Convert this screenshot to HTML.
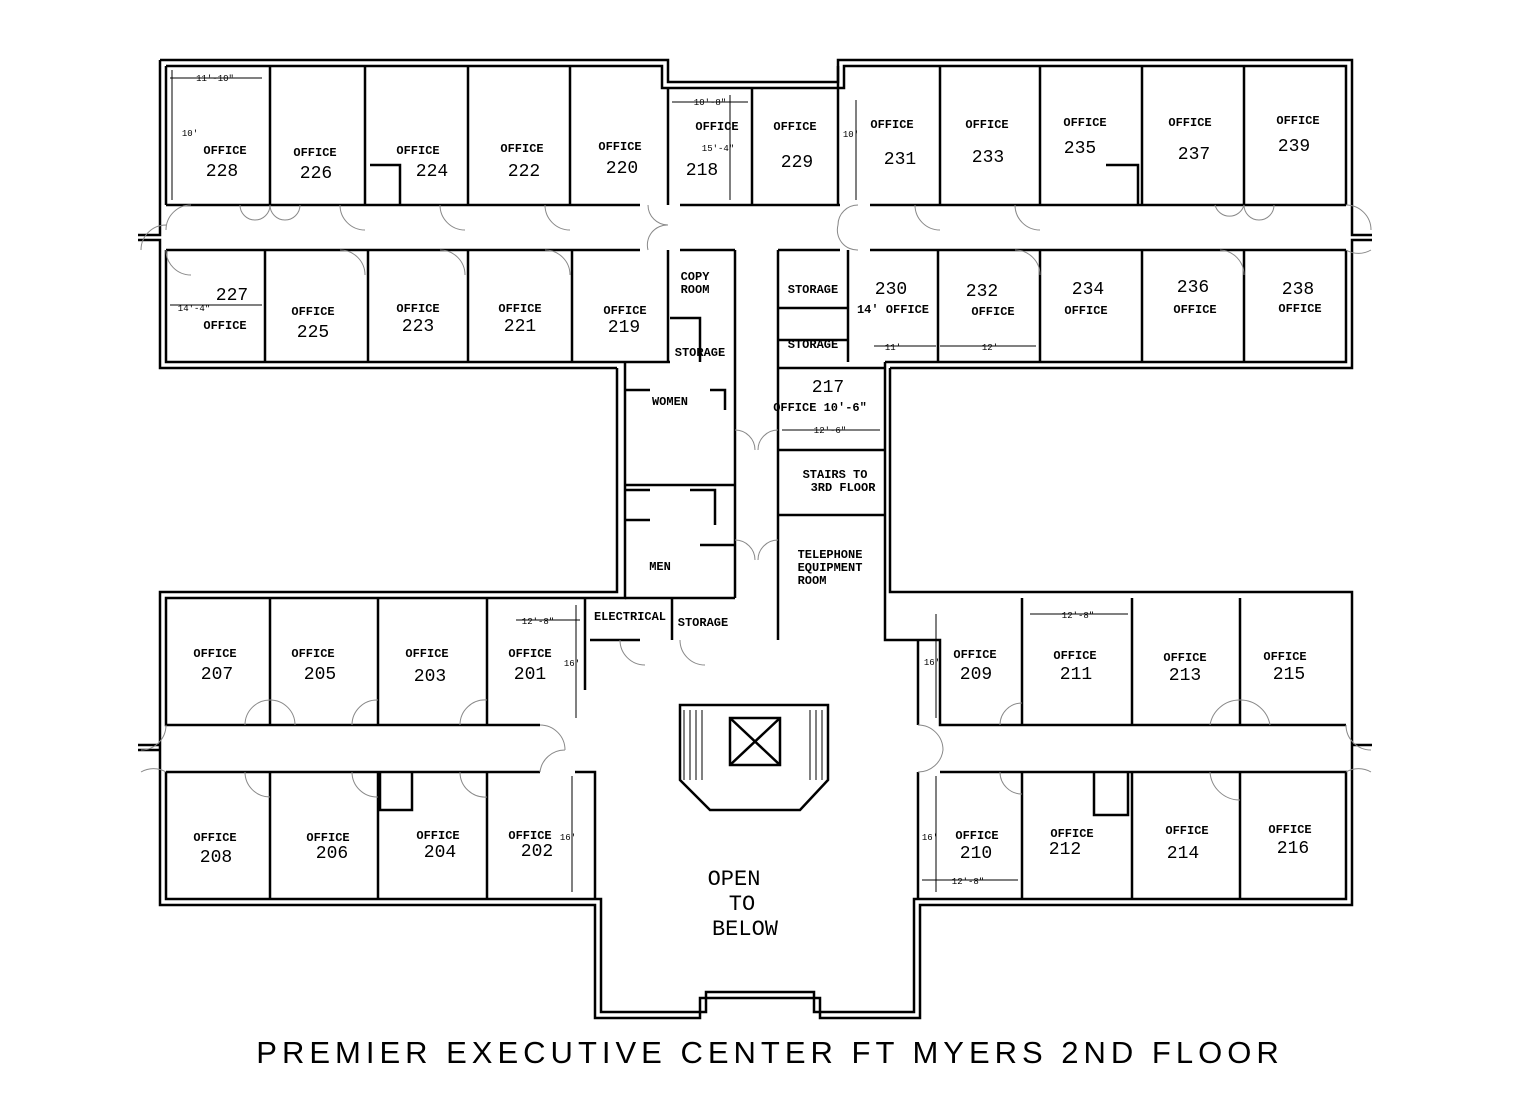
<!DOCTYPE html>
<html><head><meta charset="utf-8"><style>
html,body{margin:0;padding:0;background:#fff}
svg{display:block}
text{font-family:"Liberation Mono",monospace;fill:#000}
.s{font-size:12px;font-weight:bold}
.n{font-size:18px}
.d{font-size:9px}
</style></head><body>
<svg width="1526" height="1115" viewBox="0 0 1526 1115" xmlns="http://www.w3.org/2000/svg">
<g fill="none" stroke="#000" stroke-width="2.5">
<path d="M160 60 H668 V82 H838 V60 H1352 V235 H1372 M160 60 V235 H138"/>
<path d="M166 66 H662 V88 H844 V66 H1346 V205"/>
<path d="M166 66 V205"/>
<path d="M138 240 H160 V368 H617 M1372 240 H1352 V368 H890"/>
<path d="M166 250 V362 H670 M1346 250 V362 H885"/>
<path d="M166 205 H640 M680 205 H840 M870 205 H1346"/>
<path d="M166 250 H640 M680 250 H735 M778 250 H840 M870 250 H1346"/>
<path d="M270 66 V205 M365 66 V205 M468 66 V205 M570 66 V205 M668 88 V205 M752 88 V205 M838 66 V205 M940 66 V205 M1040 66 V205 M1142 66 V205 M1244 66 V205"/>
<path d="M265 250 V362 M368 250 V362 M468 250 V362 M572 250 V362 M668 250 V362 M735 250 V362 M778 250 V362 M848 250 V362 M938 250 V362 M1040 250 V362 M1142 250 V362 M1244 250 V362"/>
<path d="M370 165 H400 V205 M1106 165 H1138 V205 M670 318 H700 V362 M778 308 H848 M778 340 H848"/>
<path d="M617 368 V592 H160 V905 H595 V1018 H700 V998 H820 V1018 H920 V905 H1352 V592 H890 V368"/>
<path d="M625 362 V598 H166 V725 H540 M166 772 V899 H601 V1012 H706 V992 H814 V1012 H914 V899 H1346 V772 H940"/>
<path d="M1346 725 H940 V640 H885 V362"/>
<path d="M735 362 V598 M625 485 H735 M625 598 H735 M778 362 V640 M778 450 H885 M778 515 H885 M778 368 H885"/>
<path d="M138 745 H160 M138 750 H160 M1352 745 H1372"/>
<path d="M270 598 V725 M378 598 V725 M487 598 V725 M585 598 V690 M590 640 H640 M672 598 V640"/>
<path d="M166 772 H540 M575 772 H595 V899"/>
<path d="M270 772 V899 M378 772 V899 M487 772 V899 M380 772 V810 H412 V772"/>
<path d="M918 640 V725 M1022 598 V725 M1132 598 V725 M1240 598 V725"/>
<path d="M918 772 V899 M1022 772 V899 M1132 772 V899 M1240 772 V899 M1094 772 V815 H1128 V772"/>
<path d="M680 705 H828 V780 L800 810 H710 L680 780 Z M730 718 H780 V765 H730 Z M730 718 L780 765 M780 718 L730 765"/>
<path d="M625 390 H650 M710 390 H725 V410 M625 490 H650 M690 490 H715 V525 M700 545 H735 M625 520 H650"/>
</g>
<g stroke="#000" stroke-width="1">
<path d="M684 710 V780 M690 710 V780 M696 710 V780 M702 710 V780 M810 710 V780 M816 710 V780 M822 710 V780"/>
</g>
<!-- door arcs -->
<g fill="none" stroke="#888" stroke-width="1">
<path d="M166 230 A25 25 0 0 1 191 205 M166 225 A25 25 0 0 0 141 250"/>
<path d="M240 205 A15 15 0 0 0 270 205 M270 205 A15 15 0 0 0 300 205"/>
<path d="M340 205 A25 25 0 0 0 365 230 M440 205 A25 25 0 0 0 465 230 M545 205 A25 25 0 0 0 570 230"/>
<path d="M648 205 A20 20 0 0 0 668 225 M668 225 A20 20 0 0 0 648 250"/>
<path d="M838 225 A20 20 0 0 1 858 205 M838 225 A20 20 0 0 0 858 250"/>
<path d="M915 205 A25 25 0 0 0 940 230 M1015 205 A25 25 0 0 0 1040 230 M1215 205 A15 15 0 0 0 1244 205 M1244 205 A15 15 0 0 0 1274 205 M1346 205 A25 25 0 0 1 1371 230"/>
<path d="M166 250 A25 25 0 0 0 191 275 M340 250 A25 25 0 0 1 365 275 M440 250 A25 25 0 0 1 465 275 M545 250 A25 25 0 0 1 570 275"/>
<path d="M1015 250 A25 25 0 0 1 1040 275 M1220 250 A25 25 0 0 1 1244 275 M1346 250 A25 25 0 0 0 1371 250"/>
<path d="M735 430 A20 20 0 0 1 755 450 M778 430 A20 20 0 0 0 758 450 M735 540 A20 20 0 0 1 755 560 M778 540 A20 20 0 0 0 758 560"/>
<path d="M620 640 A25 25 0 0 0 645 665 M680 640 A25 25 0 0 0 705 665"/>
<path d="M166 725 A25 25 0 0 1 141 750 M166 772 A25 25 0 0 0 141 772 M245 725 A25 25 0 0 1 270 700 M270 700 A25 25 0 0 1 295 725"/>
<path d="M352 725 A25 25 0 0 1 378 700 M460 725 A25 25 0 0 1 487 700 M540 725 A25 25 0 0 1 565 750 M540 772 A25 25 0 0 1 565 750"/>
<path d="M245 772 A25 25 0 0 0 270 797 M352 772 A25 25 0 0 0 378 797 M460 772 A25 25 0 0 0 487 797"/>
<path d="M918 725 A25 25 0 0 1 943 750 M918 772 A25 25 0 0 0 943 750 M1000 725 A22 22 0 0 1 1022 703 M1210 725 A30 30 0 0 1 1240 700 M1240 700 A30 30 0 0 1 1270 725 M1346 725 A25 25 0 0 0 1371 750"/>
<path d="M1000 772 A22 22 0 0 0 1022 794 M1210 772 A30 30 0 0 0 1240 800 M1346 772 A25 25 0 0 1 1371 772"/>
</g>
<!-- dimension lines -->
<g stroke="#000" stroke-width="1">
<path d="M170 78 H262 M172 70 V200 M672 102 H748 M730 95 V200 M856 100 V200 M170 305 H262 M874 346 H936 M940 346 H1036 M782 430 H880 M516 620 H580 M576 605 V718 M1030 614 H1128 M936 614 V718 M936 776 V892 M922 880 H1018 M572 776 V892"/>
</g>
<g class="d" text-anchor="middle">
<text x="215" y="81">11'-10"</text><text x="190" y="136">10'</text><text x="710" y="105">10'-8"</text><text x="718" y="151">15'-4"</text><text x="851" y="137">10'</text><text x="194" y="311">14'-4"</text><text x="893" y="350">11'</text><text x="990" y="350">12'</text><text x="830" y="433">12'-6"</text><text x="538" y="624">12'-8"</text><text x="572" y="666">16'</text><text x="1078" y="618">12'-8"</text><text x="932" y="665">16'</text><text x="930" y="840">16'</text><text x="968" y="884">12'-8"</text><text x="568" y="840">16'</text>
</g>
<g class="s" text-anchor="middle">
<text x="225" y="154">OFFICE</text><text x="315" y="156">OFFICE</text><text x="418" y="154">OFFICE</text><text x="522" y="152">OFFICE</text><text x="620" y="150">OFFICE</text><text x="717" y="130">OFFICE</text><text x="795" y="130">OFFICE</text><text x="892" y="128">OFFICE</text><text x="987" y="128">OFFICE</text><text x="1085" y="126">OFFICE</text><text x="1190" y="126">OFFICE</text><text x="1298" y="124">OFFICE</text>
<text x="225" y="329">OFFICE</text><text x="313" y="315">OFFICE</text><text x="418" y="312">OFFICE</text><text x="520" y="312">OFFICE</text><text x="625" y="314">OFFICE</text><text x="695" y="280">COPY</text><text x="695" y="293">ROOM</text><text x="700" y="356">STORAGE</text><text x="813" y="293">STORAGE</text><text x="813" y="348">STORAGE</text><text x="893" y="313">14' OFFICE</text><text x="993" y="315">OFFICE</text><text x="1086" y="314">OFFICE</text><text x="1195" y="313">OFFICE</text><text x="1300" y="312">OFFICE</text>
<text x="670" y="405">WOMEN</text><text x="660" y="570">MEN</text><text x="820" y="411">OFFICE 10'-6"</text><text x="835" y="478">STAIRS TO</text><text x="843" y="491">3RD FLOOR</text><text x="830" y="558">TELEPHONE</text><text x="830" y="571">EQUIPMENT</text><text x="812" y="584">ROOM</text><text x="630" y="620">ELECTRICAL</text><text x="703" y="626">STORAGE</text>
<text x="215" y="657">OFFICE</text><text x="313" y="657">OFFICE</text><text x="427" y="657">OFFICE</text><text x="530" y="657">OFFICE</text><text x="975" y="658">OFFICE</text><text x="1075" y="659">OFFICE</text><text x="1185" y="661">OFFICE</text><text x="1285" y="660">OFFICE</text>
<text x="215" y="841">OFFICE</text><text x="328" y="841">OFFICE</text><text x="438" y="839">OFFICE</text><text x="530" y="839">OFFICE</text><text x="977" y="839">OFFICE</text><text x="1072" y="837">OFFICE</text><text x="1187" y="834">OFFICE</text><text x="1290" y="833">OFFICE</text>
</g>
<g class="n" text-anchor="middle">
<text x="222" y="176">228</text><text x="316" y="178">226</text><text x="432" y="176">224</text><text x="524" y="176">222</text><text x="622" y="173">220</text><text x="702" y="175">218</text><text x="797" y="167">229</text><text x="900" y="164">231</text><text x="988" y="162">233</text><text x="1080" y="153">235</text><text x="1194" y="159">237</text><text x="1294" y="151">239</text>
<text x="232" y="300">227</text><text x="313" y="337">225</text><text x="418" y="331">223</text><text x="520" y="331">221</text><text x="624" y="332">219</text><text x="891" y="294">230</text><text x="982" y="296">232</text><text x="1088" y="294">234</text><text x="1193" y="292">236</text><text x="1298" y="294">238</text><text x="828" y="392">217</text>
<text x="217" y="679">207</text><text x="320" y="679">205</text><text x="430" y="681">203</text><text x="530" y="679">201</text><text x="976" y="679">209</text><text x="1076" y="679">211</text><text x="1185" y="680">213</text><text x="1289" y="679">215</text>
<text x="216" y="862">208</text><text x="332" y="858">206</text><text x="440" y="857">204</text><text x="537" y="856">202</text><text x="976" y="858">210</text><text x="1065" y="854">212</text><text x="1183" y="858">214</text><text x="1293" y="853">216</text>
<text x="734" y="885" font-size="22">OPEN</text><text x="742" y="910" font-size="22">TO</text><text x="745" y="935" font-size="22">BELOW</text>
</g>
<text x="770" y="1063" text-anchor="middle" font-size="31" letter-spacing="5" style="font-family:'Liberation Sans',sans-serif">PREMIER EXECUTIVE CENTER FT MYERS 2ND FLOOR</text>
</svg>
</body></html>
